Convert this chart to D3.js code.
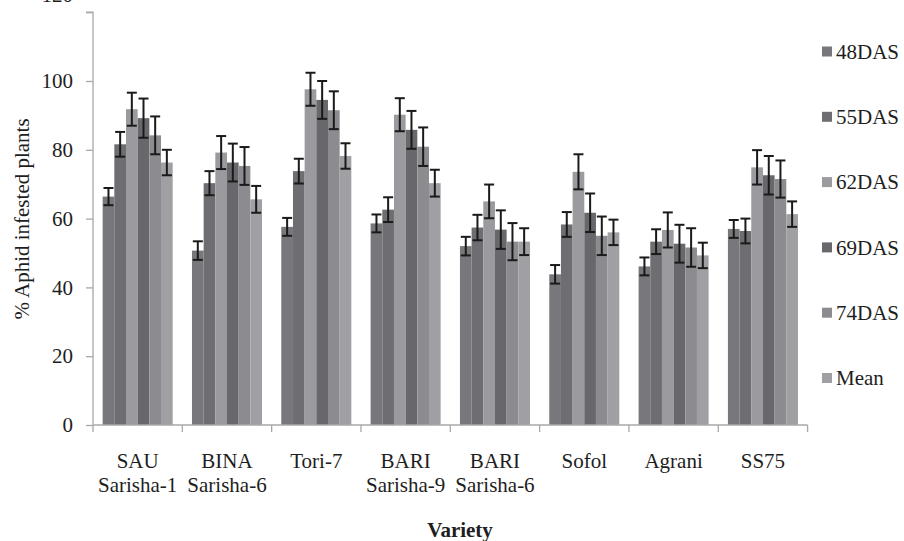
<!DOCTYPE html>
<html>
<head>
<meta charset="utf-8">
<script src="https://cdn.jsdelivr.net/npm/d3@7/dist/d3.min.js"></script>
<style>
  html, body { margin: 0; padding: 0; background: #fff; }
  svg { display: block; }
  svg text { font-family: "Liberation Serif", Tinos, "Times New Roman", Times, "DejaVu Serif", serif !important; fill: #1e1e1e; }
</style>
</head>
<body>
<svg id="chart" width="904" height="541"></svg>
<script>
// ---- data ----
const categories = [
  ["SAU", "Sarisha-1"],
  ["BINA", "Sarisha-6"],
  ["Tori-7"],
  ["BARI", "Sarisha-9"],
  ["BARI", "Sarisha-6"],
  ["Sofol"],
  ["Agrani"],
  ["SS75"]
];
const seriesNames = ["48DAS", "55DAS", "62DAS", "69DAS", "74DAS", "Mean"];
const seriesColors = ["#78787c", "#6e6e72", "#9b9b9f", "#68686c", "#8c8c90", "#a0a0a4"];

const das48 = [66.4, 50.7, 57.6, 58.6, 52.0, 43.8, 46.1, 57.0];
const das55 = [81.6, 70.3, 73.8, 62.6, 57.4, 58.3, 53.3, 56.4];
const das62 = [91.8, 79.2, 97.6, 90.2, 65.0, 73.6, 56.7, 74.9];
const das69 = [89.2, 76.3, 94.5, 85.8, 56.8, 61.7, 52.7, 72.6];
const das74 = [84.2, 75.3, 91.5, 80.9, 53.3, 55.0, 51.6, 71.5];
const mean  = [76.3, 65.6, 78.2, 70.3, 53.3, 56.0, 49.3, 61.3];

const err48 = [2.5, 2.7, 2.6, 2.6, 2.7, 2.7, 2.6, 2.6];
const err55 = [3.6, 3.5, 3.6, 3.6, 3.7, 3.6, 3.6, 3.6];
const err62 = [4.8, 4.8, 4.8, 4.8, 4.9, 5.1, 5.1, 5.0];
const err69 = [5.7, 5.5, 5.5, 5.5, 5.6, 5.6, 5.5, 5.6];
const err74 = [5.5, 5.5, 5.5, 5.6, 5.4, 5.6, 5.6, 5.4];
const errMean = [3.7, 3.9, 3.7, 3.9, 3.9, 3.7, 3.7, 3.7];

const yTicks = [0, 20, 40, 60, 80, 100, 120];

const seriesValues = [das48, das55, das62, das69, das74, mean];
const seriesErrors = [err48, err55, err62, err69, err74, errMean];

// ---- layout ----
const FONT = '"Liberation Serif", Tinos, "Times New Roman", Times, "DejaVu Serif", serif';
const svg = d3.select("#chart");
const plotLeft = 93, plotRight = 807.6, plotBottom = 425, plotTop = 12.2;
const axisColor = "#a8a8a8";

const catIdx = categories.map((c, i) => i);
const x0 = d3.scaleBand().domain(catIdx).range([plotLeft, plotRight])
  .paddingInner(0.216).paddingOuter(0.108);
const x1 = d3.scaleBand().domain(seriesNames).range([0, x0.bandwidth()]).padding(0);
const y = d3.scaleLinear().domain([0, 120]).range([plotBottom, plotTop]);

// bars
const rows = [];
categories.forEach((c, i) => {
  seriesNames.forEach((s, j) => {
    rows.push({ ci: i, s, j, v: seriesValues[j][i], e: seriesErrors[j][i] });
  });
});

const g = svg.append("g");
g.selectAll("rect.bar").data(rows).join("rect")
  .attr("class", "bar")
  .attr("x", d => x0(d.ci) + x1(d.s))
  .attr("width", x1.bandwidth())
  .attr("y", d => y(d.v))
  .attr("height", d => y(0) - y(d.v))
  .attr("fill", d => seriesColors[d.j]);

// error bars
const capHalf = 5;
const cx = d => x0(d.ci) + x1(d.s) + x1.bandwidth() / 2;
const eb = g.selectAll("g.err").data(rows).join("g").attr("class", "err")
  .attr("stroke", "#1a1a1a").attr("stroke-width", 2);
eb.append("line")
  .attr("x1", cx).attr("x2", cx)
  .attr("y1", d => y(d.v + d.e)).attr("y2", d => y(d.v - d.e));
eb.append("line")
  .attr("x1", d => cx(d) - capHalf).attr("x2", d => cx(d) + capHalf)
  .attr("y1", d => y(d.v + d.e)).attr("y2", d => y(d.v + d.e));
eb.append("line")
  .attr("x1", d => cx(d) - capHalf).attr("x2", d => cx(d) + capHalf)
  .attr("y1", d => y(d.v - d.e)).attr("y2", d => y(d.v - d.e));

// y axis
const yAxis = d3.axisLeft(y).tickValues(yTicks).tickSize(7).tickPadding(13).tickFormat(d3.format("d"));
const yg = svg.append("g").attr("transform", `translate(${plotLeft},0)`).call(yAxis)
  .attr("font-family", FONT).attr("font-size", 21);
yg.select(".domain").attr("stroke", axisColor).attr("stroke-width", 1.3).attr("d", `M-7,${y(120)}H0V${y(0)}`);
yg.selectAll(".tick line").attr("stroke", axisColor).attr("stroke-width", 1.3);
yg.selectAll(".tick text").attr("fill", "#1e1e1e")
  .attr("dy", d => d === 120 ? "-0.5em" : "0.32em");

// x axis
const step = x0.step();
const boundaries = d3.range(categories.length + 1).map(i => plotLeft + i * step);
svg.append("line").attr("x1", plotLeft).attr("x2", plotRight).attr("y1", y(0)).attr("y2", y(0))
  .attr("stroke", axisColor).attr("stroke-width", 1.3);
svg.selectAll("line.xtick").data(boundaries).join("line").attr("class", "xtick")
  .attr("x1", d => d).attr("x2", d => d).attr("y1", y(0)).attr("y2", y(0) + 7)
  .attr("stroke", axisColor).attr("stroke-width", 1.3);

// category labels
const lab = svg.selectAll("text.cat").data(categories).join("text").attr("class", "cat")
  .attr("text-anchor", "middle").attr("font-family", FONT).attr("font-size", 21)
  .attr("transform", (d, i) => `translate(${x0(i) + x0.bandwidth() / 2},468)`);
lab.selectAll("tspan").data(d => d).join("tspan")
  .attr("x", 0).attr("y", (d, k) => k * 24).text(d => d);

// axis titles
svg.append("text").attr("x", 460).attr("y", 537).attr("text-anchor", "middle")
  .attr("font-family", FONT).attr("font-size", 21).attr("font-weight", "bold").text("Variety");
svg.append("text").attr("transform", "translate(29,219) rotate(-90)").attr("text-anchor", "middle")
  .attr("font-family", FONT).attr("font-size", 21).text("% Aphid infested plants");

// legend
const leg = svg.selectAll("g.leg").data(seriesNames).join("g").attr("class", "leg")
  .attr("transform", (d, i) => `translate(822,${51.5 + i * 65.3})`);
leg.append("rect").attr("x", 0).attr("y", -5).attr("width", 10).attr("height", 10)
  .attr("fill", (d, i) => seriesColors[i]);
leg.append("text").attr("x", 14).attr("y", 0).attr("dy", "0.35em")
  .attr("font-family", FONT).attr("font-size", 21).text(d => d);
</script>
</body>
</html>
